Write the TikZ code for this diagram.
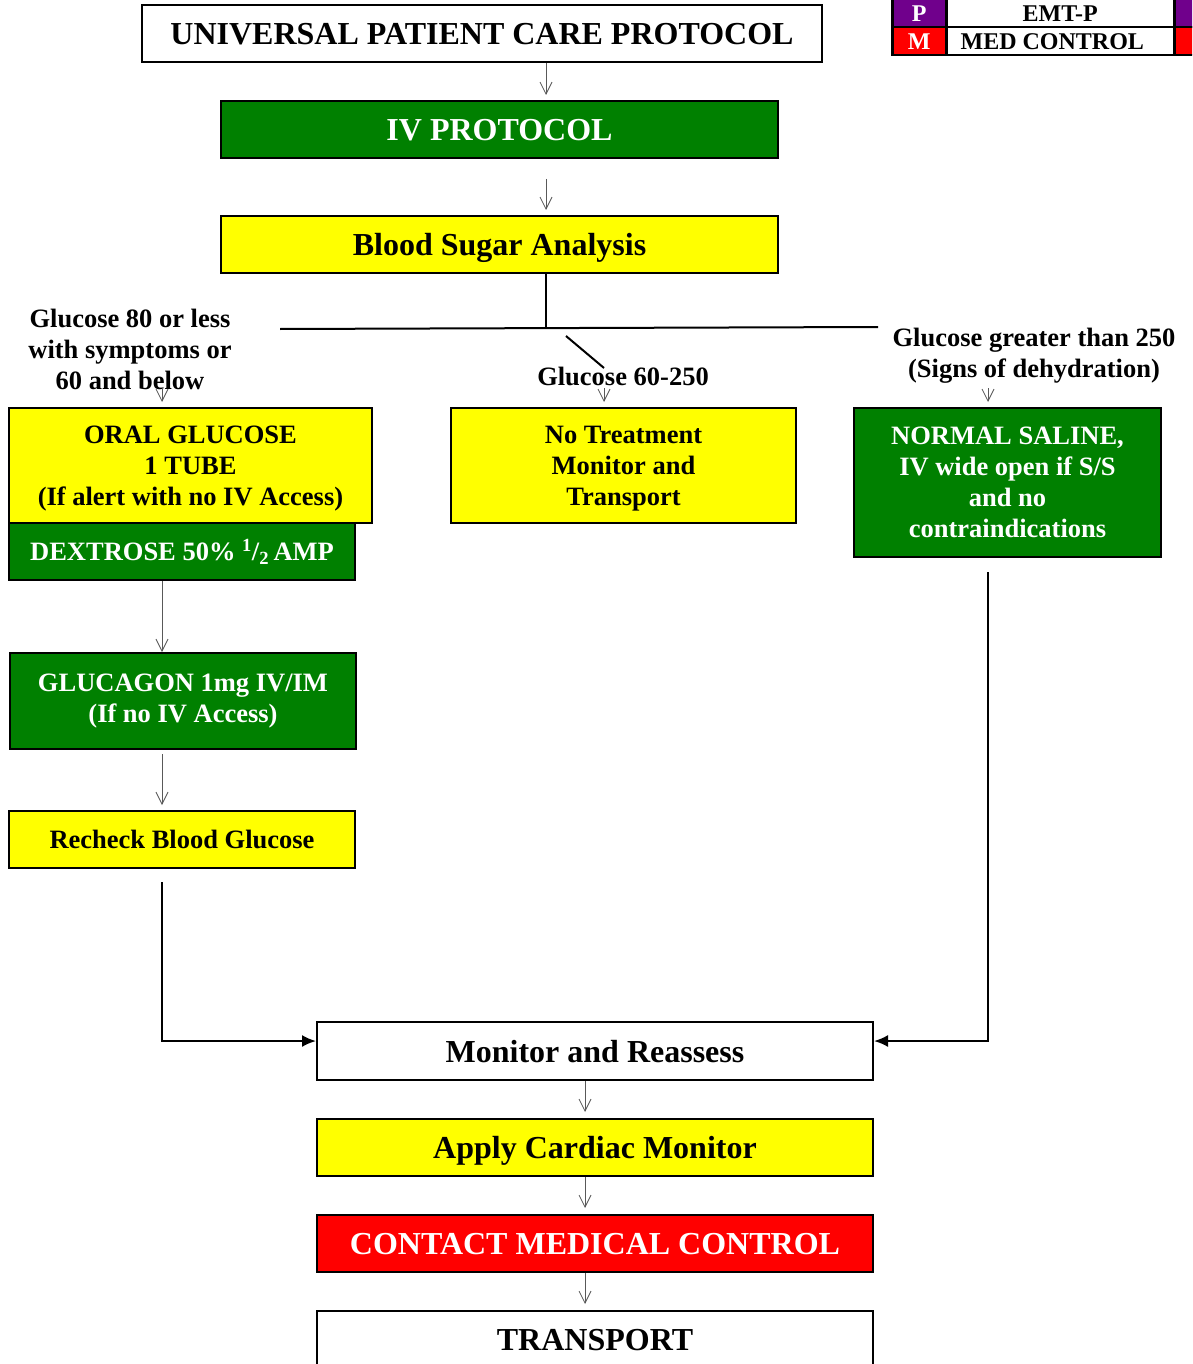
\documentclass[tikz,border=0pt]{standalone}
\usepackage{fontspec}
\setmainfont{Liberation Serif}
\usetikzlibrary{arrows.meta}
\definecolor{pgreen}{RGB}{0,128,0}
\definecolor{pyellow}{RGB}{255,255,0}
\definecolor{pred}{RGB}{255,0,0}
\definecolor{ppurple}{RGB}{112,0,140}
\begin{document}
\begin{tikzpicture}[x=1pt,y=-1pt,
  box/.style={draw=black, line width=2pt, anchor=north west, inner sep=0pt,
    align=center, font=\bfseries\fontsize{32}{36}\selectfont},
  bigbox/.style={box, text depth=0pt},
  small/.style={font=\bfseries\fontsize{26.5}{31}\selectfont},
  lbl/.style={inner sep=0pt, align=center, font=\bfseries\fontsize{26.5}{31}\selectfont},
  cell/.style={draw=black, line width=2.5pt, anchor=north west, inner sep=0pt,
    minimum height=28pt, font=\bfseries\fontsize{24}{28}\selectfont},
  flow/.style={draw=black!65, line width=0.8pt,
    -{Straight Barb[length=12pt,width=12pt,line width=0.8pt]}},
  mergearrow/.style={line width=2pt, -{Latex[length=14pt,width=12pt]}},
  branch/.style={line width=2pt}]
\clip (0,0) rectangle (1192,1364);

% ---- legend ----
\node[cell, fill=ppurple, text=white, minimum width=54pt] (lp) at (891,-2) {P};
\node[cell, fill=white, minimum width=228pt] (lpt) at (945,-2) {EMT-P};
\node[cell, fill=ppurple, minimum width=54pt] (lpe) at (1173,-2) {};
\node[cell, fill=pred, text=white, minimum width=54pt] (lm) at (891,26) {M};
\node[cell, fill=white, minimum width=228pt] (lmt) at (945,26) {MED CONTROL\kern16pt};
\node[cell, fill=pred, minimum width=54pt] (lme) at (1173,26) {};

% ---- main column ----
\node[bigbox, fill=white, minimum width=680pt, minimum height=57pt] (title) at (141,4) {UNIVERSAL PATIENT CARE PROTOCOL};
\node[bigbox, fill=pgreen, text=white, minimum width=557pt, minimum height=57pt] (iv) at (220,100) {IV PROTOCOL};
\node[bigbox, fill=pyellow, minimum width=557pt, minimum height=57pt] (bsa) at (220,215) {Blood Sugar Analysis};

% ---- branch labels ----
\node[lbl] (lowlbl) at (130,349) {Glucose 80 or less\\with symptoms or\\60 and below};
\node[lbl] (midlbl) at (623,376) {Glucose 60-250};
\node[lbl] (highlbl) at (1034,356) {Glucose greater than 250\\(Signs of dehydration)};

% ---- left branch ----
\node[box, small, text depth=0pt, fill=pyellow, minimum width=363pt, minimum height=115pt] (oral) at (8,407) {ORAL GLUCOSE\\1 TUBE\\(If alert with no IV Access)};
\node[box, small, fill=pgreen, text=white, minimum width=346pt, minimum height=57pt] (dex) at (8,522) {DEXTROSE 50\% \textsuperscript{1}/\textsubscript{2}\,AMP};
\node[box, small, fill=pgreen, text=white, minimum width=346pt, minimum height=96pt] (gluc) at (9,652) {GLUCAGON 1mg IV/IM\\(If no IV Access)};
\node[box, small, fill=pyellow, minimum width=346pt, minimum height=57pt] (recheck) at (8,810) {Recheck Blood Glucose};

% ---- middle and right branches ----
\node[box, small, text depth=0pt, fill=pyellow, minimum width=345pt, minimum height=115pt] (notreat) at (450,407) {No Treatment\\Monitor and\\Transport};
\node[box, small, fill=pgreen, text=white, minimum width=307pt, minimum height=149pt] (saline) at (853,407) {NORMAL SALINE,\\IV wide open if S/S\\and no\\contraindications};

% ---- bottom column ----
\node[bigbox, fill=white, minimum width=556pt, minimum height=58pt] (monitor) at (316,1021) {Monitor and Reassess};
\node[bigbox, fill=pyellow, minimum width=556pt, minimum height=57pt] (cardiac) at (316,1118) {Apply Cardiac Monitor};
\node[bigbox, fill=pred, text=white, minimum width=556pt, minimum height=57pt] (contact) at (316,1214) {CONTACT MEDICAL CONTROL};
\node[bigbox, fill=white, minimum width=556pt, minimum height=58pt] (transport) at (316,1310) {TRANSPORT};

% ---- connectors ----
\coordinate (axis) at (546,0);
\draw[flow, shorten >=5pt] (title.south -| axis) -- (iv.north -| axis);
\draw[flow, shorten <=20pt, shorten >=5pt] (iv.south -| axis) -- (bsa.north -| axis);

\coordinate (split) at (546,329);
\coordinate (hl) at (280,329);
\coordinate (hr) at (878,327);
\coordinate (d1) at (566,336);
\coordinate (d2) at (604,368);
\draw[branch] (bsa.south -| axis) -- (split);
\draw[branch] (hl) -- (hr);
\draw[branch] (d1) -- (d2);

\coordinate (la) at (162,388);
\coordinate (ma) at (604,388);
\coordinate (ra) at (988,388);
\draw[flow, shorten >=5pt] (la) -- (oral.north -| la);
\draw[flow, shorten >=5pt] (ma) -- (notreat.north -| ma);
\draw[flow, shorten >=5pt] (ra) -- (saline.north -| ra);

\coordinate (lc) at (162,0);
\draw[flow] (dex.south -| lc) -- (gluc.north -| lc);
\draw[flow, shorten <=4pt, shorten >=5pt] (gluc.south -| lc) -- (recheck.north -| lc);
\draw[mergearrow, shorten <=13pt] (recheck.south -| lc) |- ([yshift=10pt]monitor.west);

\coordinate (rc) at (988,0);
\draw[mergearrow, shorten <=14pt] (saline.south -| rc) |- ([yshift=10pt]monitor.east);

\coordinate (bc) at (585,0);
\draw[flow, shorten >=6pt] (monitor.south -| bc) -- (cardiac.north -| bc);
\draw[flow, shorten >=6pt] (cardiac.south -| bc) -- (contact.north -| bc);
\draw[flow, shorten >=6pt] (contact.south -| bc) -- (transport.north -| bc);
\end{tikzpicture}
\end{document}
